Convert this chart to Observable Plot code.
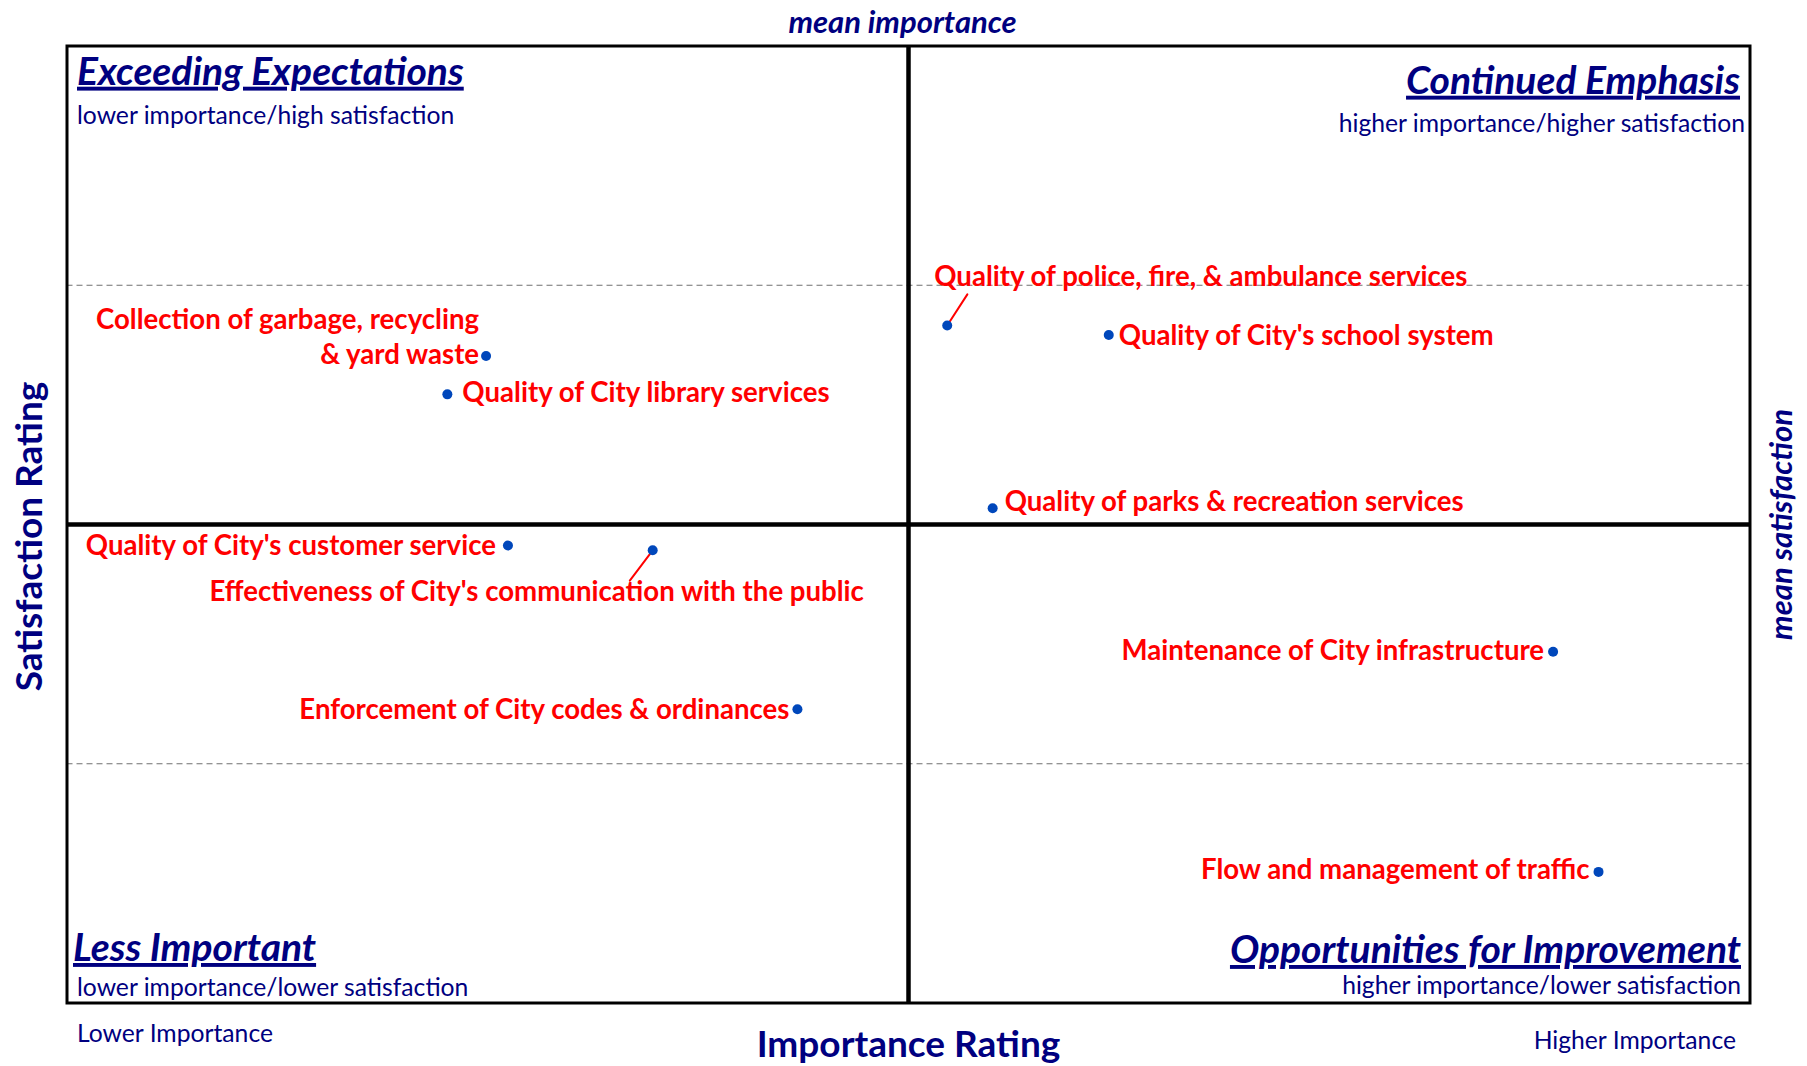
<!DOCTYPE html>
<html>
<head>
<meta charset="utf-8">
<script src="https://cdn.jsdelivr.net/npm/d3@7"></script>
<script src="https://cdn.jsdelivr.net/npm/@observablehq/plot@0.6"></script>
<style>
  html, body { margin: 0; padding: 0; background: #fff; }
  #chart { width: 1807px; height: 1066px; }
  svg { font-family: "Lato", "Open Sans", sans-serif; }
</style>
</head>
<body>
<div id="chart"></div>
<script>
// ---- data ----
const services = [
  "Collection of garbage, recycling\n& yard waste",
  "Quality of City library services",
  "Quality of police, fire, & ambulance services",
  "Quality of City's school system",
  "Quality of parks & recreation services",
  "Quality of City's customer service",
  "Effectiveness of City's communication with the public",
  "Enforcement of City codes & ordinances",
  "Maintenance of City infrastructure",
  "Flow and management of traffic"
];
const importance   = [24.9, 22.6, 52.3, 61.9, 55.0, 26.2, 34.8, 43.4, 88.3, 91.0];
const satisfaction = [67.6, 63.6, 70.8, 69.8, 51.7, 47.8, 47.3, 30.7, 36.7, 13.7];
const meanImportance = 50;
const meanSatisfaction = 50;
const bandLines = [25, 75];
const quadrantTitles = ["Exceeding Expectations", "Continued Emphasis", "Less Important", "Opportunities for Improvement"];
const quadrantSubs = [
  "lower importance/high satisfaction",
  "higher importance/higher satisfaction",
  "lower importance/lower satisfaction",
  "higher importance/lower satisfaction"
];

// ---- label placement (style, not data) ----
const labelPlacement = [
  {anchor: "end",    dx: -7,   dy: -21},
  {anchor: "start",  dx: 15,   dy: -4},
  {anchor: "start",  dx: -13,  dy: -51},
  {anchor: "start",  dx: 10,   dy: -1},
  {anchor: "start",  dx: 12,   dy: -9},
  {anchor: "end",    dx: -12,  dy: -2},
  {anchor: "middle", dx: -116, dy: 39},
  {anchor: "end",    dx: -8,   dy: -2},
  {anchor: "end",    dx: -9,   dy: -3},
  {anchor: "end",    dx: -9,   dy: -4}
];
const leaders = [
  {i: 2, length: 37, rotate: 33},
  {i: 6, length: 38, rotate: 217}
];

const table = services.map((s, i) => ({service: s, importance: importance[i], satisfaction: satisfaction[i]}));

const NAVY = "#000080";
const RED = "#ff0000";
const BLUE = "#0047bb";

const labelMarks = table.map((d, i) => Plot.text([d], {
  x: "importance", y: "satisfaction", text: "service",
  textAnchor: labelPlacement[i].anchor, dx: labelPlacement[i].dx, dy: labelPlacement[i].dy,
  fill: RED, fontWeight: "bold", fontSize: 27.6, lineHeight: 1.3
}));

const leaderShape = {draw(context, l) { context.moveTo(0, 0); context.lineTo(0, -l); }};
const leaderMarks = leaders.map(L => Plot.vector([table[L.i]], {
  x: "importance", y: "satisfaction", length: L.length, rotate: L.rotate,
  anchor: "start", stroke: RED, strokeWidth: 2, shape: leaderShape
}));

function frameText(text, o) {
  return Plot.text([text], Object.assign({text: d => d, fill: NAVY}, o));
}
const T = {fontSize: 39, fontWeight: "bold", fontStyle: "italic"};
const S = {fontSize: 24.7};

const chart = Plot.plot({
  width: 1807,
  height: 1066,
  marginLeft: 66.5,
  marginRight: 57.5,
  marginTop: 45.5,
  marginBottom: 63.5,
  x: {domain: [0, 100], axis: null},
  y: {domain: [0, 100], axis: null},
  marks: [
    Plot.ruleY(bandLines, {stroke: "#707070", strokeWidth: 1.2, strokeDasharray: "6,4"}),
    Plot.ruleX([meanImportance], {stroke: "#000", strokeWidth: 4.5}),
    Plot.ruleY([meanSatisfaction], {stroke: "#000", strokeWidth: 4.5}),
    Plot.frame({stroke: "#000", strokeWidth: 3}),
    ...leaderMarks,
    Plot.dot(table, {x: "importance", y: "satisfaction", r: 5, fill: BLUE}),
    ...labelMarks,
    // quadrant titles
    frameText(quadrantTitles[0], {frameAnchor: "top-left", textAnchor: "start", dx: 10, dy: 11, ...T}),
    frameText(quadrantSubs[0],   {frameAnchor: "top-left", textAnchor: "start", dx: 10, dy: 60, ...S}),
    frameText(quadrantTitles[1], {frameAnchor: "top-right", textAnchor: "end", dx: -10, dy: 20, ...T}),
    frameText(quadrantSubs[1],   {frameAnchor: "top-right", textAnchor: "end", dx: -5, dy: 68, ...S}),
    frameText(quadrantTitles[2], {frameAnchor: "bottom-left", textAnchor: "start", dx: 6, dy: -42, ...T}),
    frameText(quadrantSubs[2],   {frameAnchor: "bottom-left", textAnchor: "start", dx: 10, dy: -7, ...S}),
    frameText(quadrantTitles[3], {frameAnchor: "bottom-right", textAnchor: "end", dx: -9, dy: -40, ...T}),
    frameText(quadrantSubs[3],   {frameAnchor: "bottom-right", textAnchor: "end", dx: -9, dy: -9, ...S}),
    // outer labels
    frameText("mean importance", {frameAnchor: "top", textAnchor: "middle", dx: -6, dy: -35, fontSize: 31, fontWeight: "bold", fontStyle: "italic"}),
    frameText("mean satisfaction", {frameAnchor: "right", textAnchor: "middle", dx: 32, dy: 0, rotate: -90, fontSize: 31, fontWeight: "bold", fontStyle: "italic"}),
    frameText("Satisfaction Rating", {frameAnchor: "left", textAnchor: "middle", dx: -37, dy: 12, rotate: -90, fontSize: 37, fontWeight: "bold"}),
    frameText("Importance Rating", {frameAnchor: "bottom", textAnchor: "middle", dy: 54, fontSize: 37, fontWeight: "bold"}),
    frameText("Lower Importance", {frameAnchor: "bottom-left", textAnchor: "start", dx: 10, dy: 39, ...S}),
    frameText("Higher Importance", {frameAnchor: "bottom-right", textAnchor: "end", dx: -14, dy: 46, ...S})
  ]
});

d3.select(chart).selectAll("text")
  .filter(function() { return quadrantTitles.includes(this.textContent); })
  .style("text-decoration", "underline");
document.getElementById("chart").appendChild(chart);
</script>
</body>
</html>
